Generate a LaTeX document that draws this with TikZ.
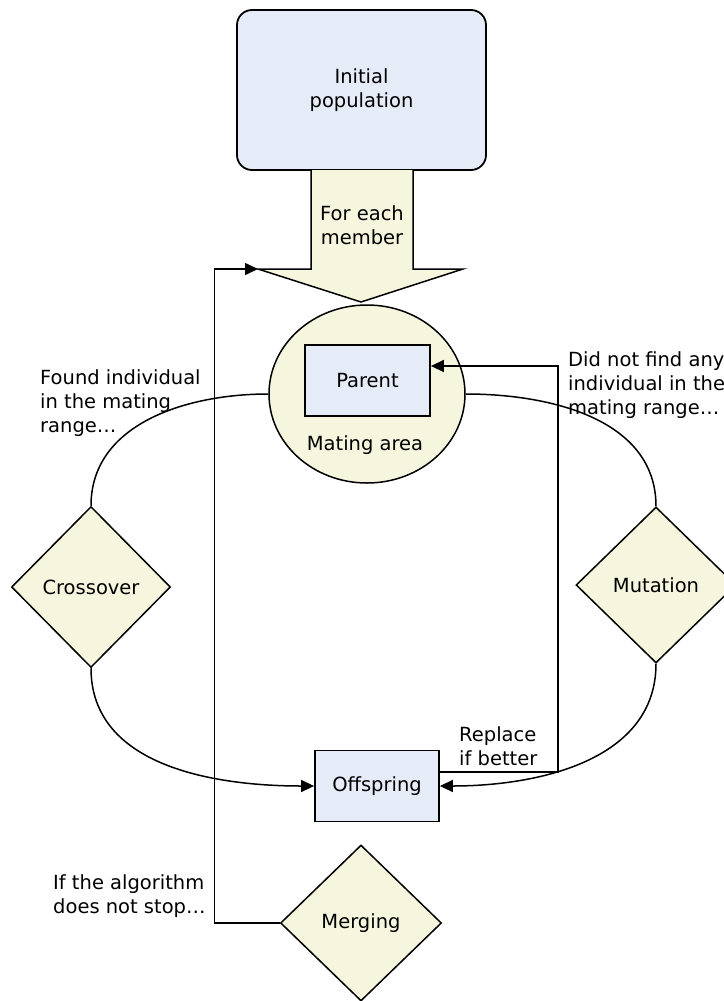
\documentclass[tikz,border=0pt]{standalone}
\usepackage{fontspec}
\setmainfont{DejaVu Sans}
\usetikzlibrary{shapes.geometric,arrows.meta}
\definecolor{boxblue}{RGB}{230,236,247}
\definecolor{boxyellow}{RGB}{246,246,222}
\begin{document}
\begin{tikzpicture}[x=1pt, y=-1pt, >={Triangle[length=13pt,width=12pt]},
    font=\fontsize{19.5pt}{24pt}\selectfont,
    bluebox/.style={draw, line width=1.8pt, fill=boxblue, align=center},
    ydiamond/.style={draw, diamond, line width=1.5pt, fill=boxyellow, inner sep=0pt},
    note/.style={align=left, inner sep=0pt, anchor=west}]
        \useasboundingbox (0,0) rectangle (723,1001);

        % 初始种群
        \node[bluebox, rounded corners=15pt, minimum width=249pt, minimum height=160pt] (init) at (361.5,90) {Initial\\population};
        \draw[line width=1.5pt, fill=boxyellow] (311,170) -- (311,269) -- (258,269) -- (361,302) -- (463,269) -- (413,269) -- (413,170);
        \coordinate (headL) at (258,269);
        \node[align=center] (each) at (362,225) {For each\\member};

        % 交配区
        \node[draw, ellipse, line width=1.5pt, fill=boxyellow, minimum width=196pt, minimum height=178pt] (mating) at (367,394) {};
        \node[bluebox, minimum width=125pt, minimum height=71pt] (parent) at (367.5,380.5) {Parent};
        \node (area) at (365,445) {Mating area};

        % 操作节点
        \node[ydiamond, minimum width=159pt, minimum height=161pt] (cross) at (91,587) {Crossover};
        \node[ydiamond, minimum width=160pt, minimum height=156pt] (mut) at (656,585) {Mutation};
        \node[bluebox, minimum width=124pt, minimum height=71pt] (off) at (377,786) {Offspring};
        \node[ydiamond, minimum width=161pt, minimum height=156pt] (merge) at (361,923) {Merging};

        % 循环
        \draw[line width=1.5pt] (mating.west) to [out=180, in=90] (cross.north);
        \draw[->, line width=1.5pt] (cross.south) to [out=-90, in=180] (off.west);
        \draw[line width=1.5pt] (mating.east) to [out=0, in=90] (mut.north);
        \draw[->, line width=1.5pt] (mut.south) to [out=-90, in=0] (off.east);

        % 替换与反馈
        \draw[->, line width=1.5pt] ([yshift=14pt]off.east) -- ++(118,0) |- ([yshift=14.5pt]parent.east);
        \draw[->, line width=1.5pt] (merge.west) -- ++(-65.5,0) |- (headL);

        % 说明文字
        \node[note] (found) at (40,403) {Found individual\\in the mating\\range…};
        \node[note] (notfound) at (568,385) {Did not find any\\individual in the\\mating range…};
        \node[note] (replace) at (459,746) {Replace\\if better};
        \node[note] (stop) at (53,896) {If the algorithm\\does not stop…};
    \end{tikzpicture}
\end{document}
